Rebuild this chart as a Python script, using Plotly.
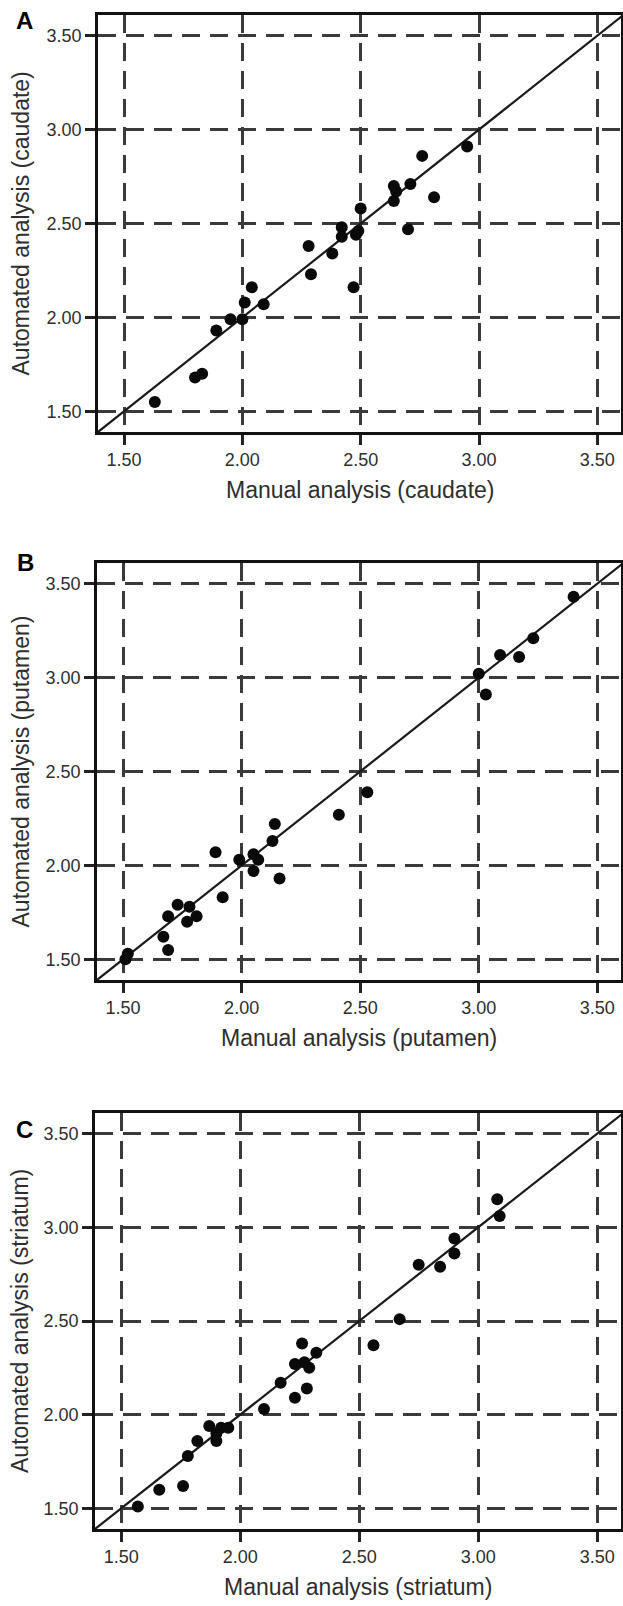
import plotly.graph_objects as go

# ---------------- data ----------------
caudate_manual = [1.63, 1.80, 1.83, 1.89, 1.95, 2.00, 2.01, 2.04, 2.09, 2.28, 2.29, 2.38,
                  2.42, 2.42, 2.47, 2.48, 2.49, 2.50, 2.64, 2.64, 2.65, 2.70, 2.71, 2.76,
                  2.81, 2.95]
caudate_auto = [1.55, 1.68, 1.70, 1.93, 1.99, 1.99, 2.08, 2.16, 2.07, 2.38, 2.23, 2.34,
                2.48, 2.43, 2.16, 2.44, 2.46, 2.58, 2.62, 2.70, 2.67, 2.47, 2.71, 2.86,
                2.64, 2.91]

putamen_manual = [1.51, 1.52, 1.67, 1.69, 1.69, 1.73, 1.77, 1.78, 1.81, 1.89, 1.92, 1.99,
                  2.05, 2.05, 2.07, 2.13, 2.14, 2.16, 2.41, 2.53, 3.00, 3.03, 3.09, 3.17,
                  3.23, 3.40]
putamen_auto = [1.50, 1.53, 1.62, 1.55, 1.73, 1.79, 1.70, 1.78, 1.73, 2.07, 1.83, 2.03,
                2.06, 1.97, 2.03, 2.13, 2.22, 1.93, 2.27, 2.39, 3.02, 2.91, 3.12, 3.11,
                3.21, 3.43]

striatum_manual = [1.57, 1.66, 1.76, 1.78, 1.82, 1.87, 1.90, 1.90, 1.92, 1.95, 2.10, 2.17,
                   2.23, 2.23, 2.26, 2.27, 2.28, 2.29, 2.32, 2.56, 2.67, 2.75, 2.84, 2.90,
                   2.90, 3.08, 3.09]
striatum_auto = [1.51, 1.60, 1.62, 1.78, 1.86, 1.94, 1.90, 1.86, 1.93, 1.93, 2.03, 2.17,
                 2.09, 2.27, 2.38, 2.28, 2.14, 2.25, 2.33, 2.37, 2.51, 2.80, 2.79, 2.86,
                 2.94, 3.15, 3.06]

identity_line = [1.38, 3.62]
tick_vals = [1.5, 2.0, 2.5, 3.0, 3.5]
x_titles = ["Manual analysis (caudate)", "Manual analysis (putamen)", "Manual analysis (striatum)"]
y_titles = ["Automated analysis (caudate)", "Automated analysis (putamen)", "Automated analysis (striatum)"]
panel_letters = ["A", "B", "C"]

# ---------------- layout geometry (pixels) ----------------
W, H = 623, 1606
panels = [  # (left, right, top, bottom)
    (98, 621, 15, 432),
    (97, 621, 563, 980),
    (95, 621, 1113, 1529),
]
letter_pos = [(24, 20), (25, 562), (24, 1129)]
xr = [1.39, 3.60]
yr = [1.39, 3.61]

series = [(caudate_manual, caudate_auto), (putamen_manual, putamen_auto),
          (striatum_manual, striatum_auto)]

fig = go.Figure()
annotations = []
font_family = "Liberation Sans, Arial, sans-serif"

for i, ((mx, ay), (l, r, t, b)) in enumerate(zip(series, panels)):
    sfx = "" if i == 0 else str(i + 1)
    xa, ya = "x" + sfx, "y" + sfx
    fig.add_trace(go.Scatter(x=identity_line, y=identity_line, mode="lines",
                             line=dict(color="#1a1a1a", width=2.2),
                             xaxis=xa, yaxis=ya, showlegend=False, hoverinfo="skip"))
    fig.add_trace(go.Scatter(x=mx, y=ay, mode="markers",
                             marker=dict(color="#0a0a0a", size=12, line=dict(width=0)),
                             xaxis=xa, yaxis=ya, showlegend=False))
    axis_common = dict(
        tickvals=tick_vals, tickformat=".2f",
        showgrid=True, gridcolor="#3a3a3a", gridwidth=3, griddash="18px,10px",
        zeroline=False, showline=True, linecolor="#111111", linewidth=2.5, mirror=True,
        ticks="outside", ticklen=10, tickwidth=2.5, tickcolor="#222222",
        tickfont=dict(family=font_family, size=18, color="#2e2e2e"),
        automargin=False, fixedrange=True,
    )
    fig.layout["xaxis" + sfx] = dict(axis_common, domain=[l / W, r / W], range=xr,
                                     anchor=ya)
    fig.layout["yaxis" + sfx] = dict(axis_common, domain=[1 - b / H, 1 - t / H], range=yr,
                                     anchor=xa)
    # axis titles
    annotations.append(dict(text=x_titles[i], xref="paper", yref="paper",
                            x=((l + r) / 2) / W, y=1 - (b + 58) / H,
                            xanchor="center", yanchor="middle", showarrow=False,
                            font=dict(family=font_family, size=23, color="#2e2e2e")))
    annotations.append(dict(text=y_titles[i], xref="paper", yref="paper",
                            x=20 / W, y=1 - ((t + b) / 2) / H, textangle=-90,
                            xanchor="center", yanchor="middle", showarrow=False,
                            font=dict(family=font_family, size=23, color="#2e2e2e")))
    lx, ly = letter_pos[i]
    annotations.append(dict(text="<b>" + panel_letters[i] + "</b>", xref="paper", yref="paper",
                            x=lx / W, y=1 - ly / H, xanchor="center", yanchor="middle",
                            showarrow=False,
                            font=dict(family=font_family, size=24, color="#000000")))

fig.update_layout(width=W, height=H, margin=dict(l=0, r=0, t=0, b=0),
                  paper_bgcolor="white", plot_bgcolor="white",
                  annotations=annotations, showlegend=False)

fig.write_html("out.html", config={"displayModeBar": False})
